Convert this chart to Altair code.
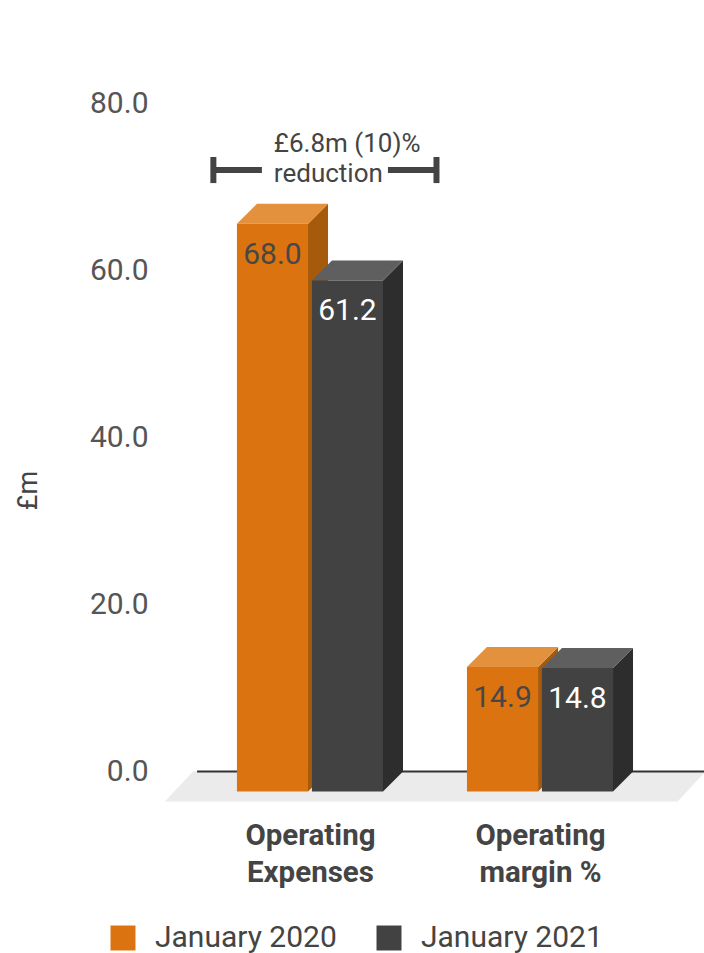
import altair as alt
import pandas as pd

# ---------------- data ----------------
CATEGORIES = ["Operating Expenses", "Operating margin %"]
CATEGORY_LINES = [["Operating", "Expenses"], ["Operating", "margin %"]]
SERIES = ["January 2020", "January 2021"]
VALUES_2020 = [68.0, 14.9]
VALUES_2021 = [61.2, 14.8]
Y_TICKS = [0, 20, 40, 60, 80]
Y_TITLE = "£m"

# ---------------- style ----------------
FRONT_COLORS = ["#DB7410", "#424242"]
TOP_COLORS = ["#E4913E", "#5F5F5F"]
SIDE_COLORS = ["#A65A0B", "#2D2D2D"]
LABEL_COLORS = ["#474747", "#FFFFFF"]
FLOOR_COLOR = "#EBEBEB"
TEXT = "#444444"
FONT = "Roboto"

PAD_L, PAD_T, PAD_B = 160, 20, 143
PLOT_W, PLOT_H = 544, 790
X_DOMAIN = [-0.652, 1.713]
Y_DOMAIN = [-4.611, 90.0]
XPX = PLOT_W / (X_DOMAIN[1] - X_DOMAIN[0])
YPX = PLOT_H / (Y_DOMAIN[1] - Y_DOMAIN[0])

BAR_W = 0.309
BAR_GAP = 0.017
DEPTH_PX = 20
DX = DEPTH_PX / XPX
DY = DEPTH_PX / YPX
FLOOR_DX = 28 / XPX
FLOOR_DY = 30 / YPX
FLOOR_X = [-0.509, 1.72]
AXIS_LINE_X = [-0.491, 1.72]

# ---------------- geometry tables ----------------
fronts, tops, sides, labels = [], [], [], []
for gi, cat in enumerate(CATEGORIES):
    for si, (ser, vals) in enumerate(zip(SERIES, [VALUES_2020, VALUES_2021])):
        v = vals[gi]
        cx = gi + (si - 0.5) * (BAR_W + BAR_GAP)
        xl, xr = cx - BAR_W / 2, cx + BAR_W / 2
        fronts.append({"x": xl, "x2": xr, "y": -DY, "y2": v - DY, "series": ser})
        pid = f"{gi}-{si}"
        for px, py, py2 in [(xl, v - DY, v - DY), (xl + DX, v, v - DY),
                            (xr, v, v - DY), (xr + DX, v, v)]:
            tops.append({"x": px, "y": py, "y2": py2, "poly": pid, "col": TOP_COLORS[si]})
        for px, py, py2 in [(xr, v - DY, -DY), (xr + DX, v, 0.0)]:
            sides.append({"x": px, "y": py, "y2": py2, "poly": pid, "col": SIDE_COLORS[si]})
        labels.append({"x": cx, "y": v - DY, "text": f"{v:.1f}", "lc": LABEL_COLORS[si]})

floor = pd.DataFrame([
    {"x": FLOOR_X[0] - FLOOR_DX, "y": -FLOOR_DY, "y2": -FLOOR_DY, "poly": "f"},
    {"x": FLOOR_X[0], "y": 0.0, "y2": -FLOOR_DY, "poly": "f"},
    {"x": FLOOR_X[1] - FLOOR_DX, "y": 0.0, "y2": -FLOOR_DY, "poly": "f"},
    {"x": FLOOR_X[1], "y": 0.0, "y2": 0.0, "poly": "f"},
])
axis_line = pd.DataFrame([{"x": AXIS_LINE_X[0], "x2": AXIS_LINE_X[1], "y": 0.0}])

# annotation
diff = VALUES_2020[0] - VALUES_2021[0]
pct = round(diff / VALUES_2020[0] * 100)
ANNOT_LINES = [f"£{diff:.1f}m ({pct})%", "reduction"]
ANNOT_X = -0.157
ANNOT_Y = [74.2, 70.6]
annot = pd.DataFrame({"x": [ANNOT_X] * 2, "y": ANNOT_Y, "text": ANNOT_LINES})
BR_X = [-0.420, -0.209, 0.339, 0.550]
BR_Y = 72.03
BR_H = 1.56
bracket = pd.DataFrame([
    {"x": BR_X[0], "x2": BR_X[1], "y": BR_Y, "y2": BR_Y},
    {"x": BR_X[2], "x2": BR_X[3], "y": BR_Y, "y2": BR_Y},
    {"x": BR_X[0], "x2": BR_X[0], "y": BR_Y - BR_H, "y2": BR_Y + BR_H},
    {"x": BR_X[3], "x2": BR_X[3], "y": BR_Y - BR_H, "y2": BR_Y + BR_H},
])

# ---------------- scales & axes ----------------
label_expr = "datum.value < 0.5 ? " + str(CATEGORY_LINES[0]) + " : " + str(CATEGORY_LINES[1])
X_AXIS = alt.Axis(values=[0, 1], labelExpr=label_expr, title=None, domain=False,
                  ticks=False, tickSize=0, grid=False, labelFont=FONT, labelFontSize=29.5,
                  labelFontWeight="bold", labelColor=TEXT, labelPadding=11,
                  labelLineHeight=37, labelBaseline="top", labelFlush=False,
                  labelOverlap=False, labelBound=False)
Y_AXIS = alt.Axis(values=Y_TICKS, format=".1f", title=Y_TITLE, domain=False, ticks=False,
                  tickSize=0, grid=False, labelFont=FONT, labelFontSize=30,
                  labelColor="#555555", labelPadding=12, titleFont=FONT, titleFontSize=27,
                  titleFontWeight="normal", titleColor=TEXT, titleX=-132, titleY=470,
                  titleAlign="center", titleBaseline="middle")
XS = alt.Scale(domain=X_DOMAIN, nice=False, zero=False)
YS = alt.Scale(domain=Y_DOMAIN, nice=False, zero=False)


def xenc():
    return alt.X("x:Q", scale=XS, axis=X_AXIS)


def yenc():
    return alt.Y("y:Q", scale=YS, axis=Y_AXIS, stack=None)


floor_layer = alt.Chart(floor).mark_area(orient="vertical", color=FLOOR_COLOR).encode(
    x=xenc(), y=yenc(), y2="y2:Q", detail="poly:N")
line_layer = alt.Chart(axis_line).mark_rule(color="#333333", strokeWidth=2).encode(
    x=xenc(), x2="x2:Q", y=yenc())
side_layer = alt.Chart(pd.DataFrame(sides)).mark_area(orient="vertical").encode(
    x=xenc(), y=yenc(), y2="y2:Q", detail="poly:N", fill=alt.Fill("col:N", scale=None))
top_layer = alt.Chart(pd.DataFrame(tops)).mark_area(orient="vertical").encode(
    x=xenc(), y=yenc(), y2="y2:Q", detail="poly:N", fill=alt.Fill("col:N", scale=None))
front_layer = alt.Chart(pd.DataFrame(fronts)).mark_rect().encode(
    x=xenc(), x2="x2:Q", y=yenc(), y2="y2:Q",
    color=alt.Color("series:N", scale=alt.Scale(domain=SERIES, range=FRONT_COLORS),
                    legend=alt.Legend(orient="none", legendX=-52, legendY=903,
                                      direction="horizontal", title=None,
                                      symbolType="square", symbolSize=625,
                                      symbolStrokeWidth=0, symbolOpacity=1,
                                      labelFontSize=30, labelFont=FONT, labelColor=TEXT,
                                      labelLimit=400, labelOffset=17, columnPadding=37,
                                      padding=0)))
label_layer = alt.Chart(pd.DataFrame(labels)).mark_text(
    font=FONT, fontSize=30, baseline="middle", align="center", dy=31).encode(
    x=xenc(), y=yenc(), text="text:N", fill=alt.Fill("lc:N", scale=None))
annot_layer = alt.Chart(annot).mark_text(
    font=FONT, fontSize=26, align="left", baseline="alphabetic", color=TEXT).encode(
    x=xenc(), y=yenc(), text="text:N")
bracket_layer = alt.Chart(bracket).mark_rule(color=TEXT, strokeWidth=6).encode(
    x=xenc(), x2="x2:Q", y=yenc(), y2="y2:Q")

chart = alt.layer(
    floor_layer, line_layer, side_layer, top_layer, front_layer,
    label_layer, annot_layer, bracket_layer
).properties(
    width=PLOT_W, height=PLOT_H,
    padding={"left": PAD_L, "top": PAD_T, "right": 0, "bottom": PAD_B},
    autosize=alt.AutoSizeParams(type="none"),
    background="white",
).configure_view(stroke=None)

chart.save("out.html", embed_options={"renderer": "svg", "actions": False})
